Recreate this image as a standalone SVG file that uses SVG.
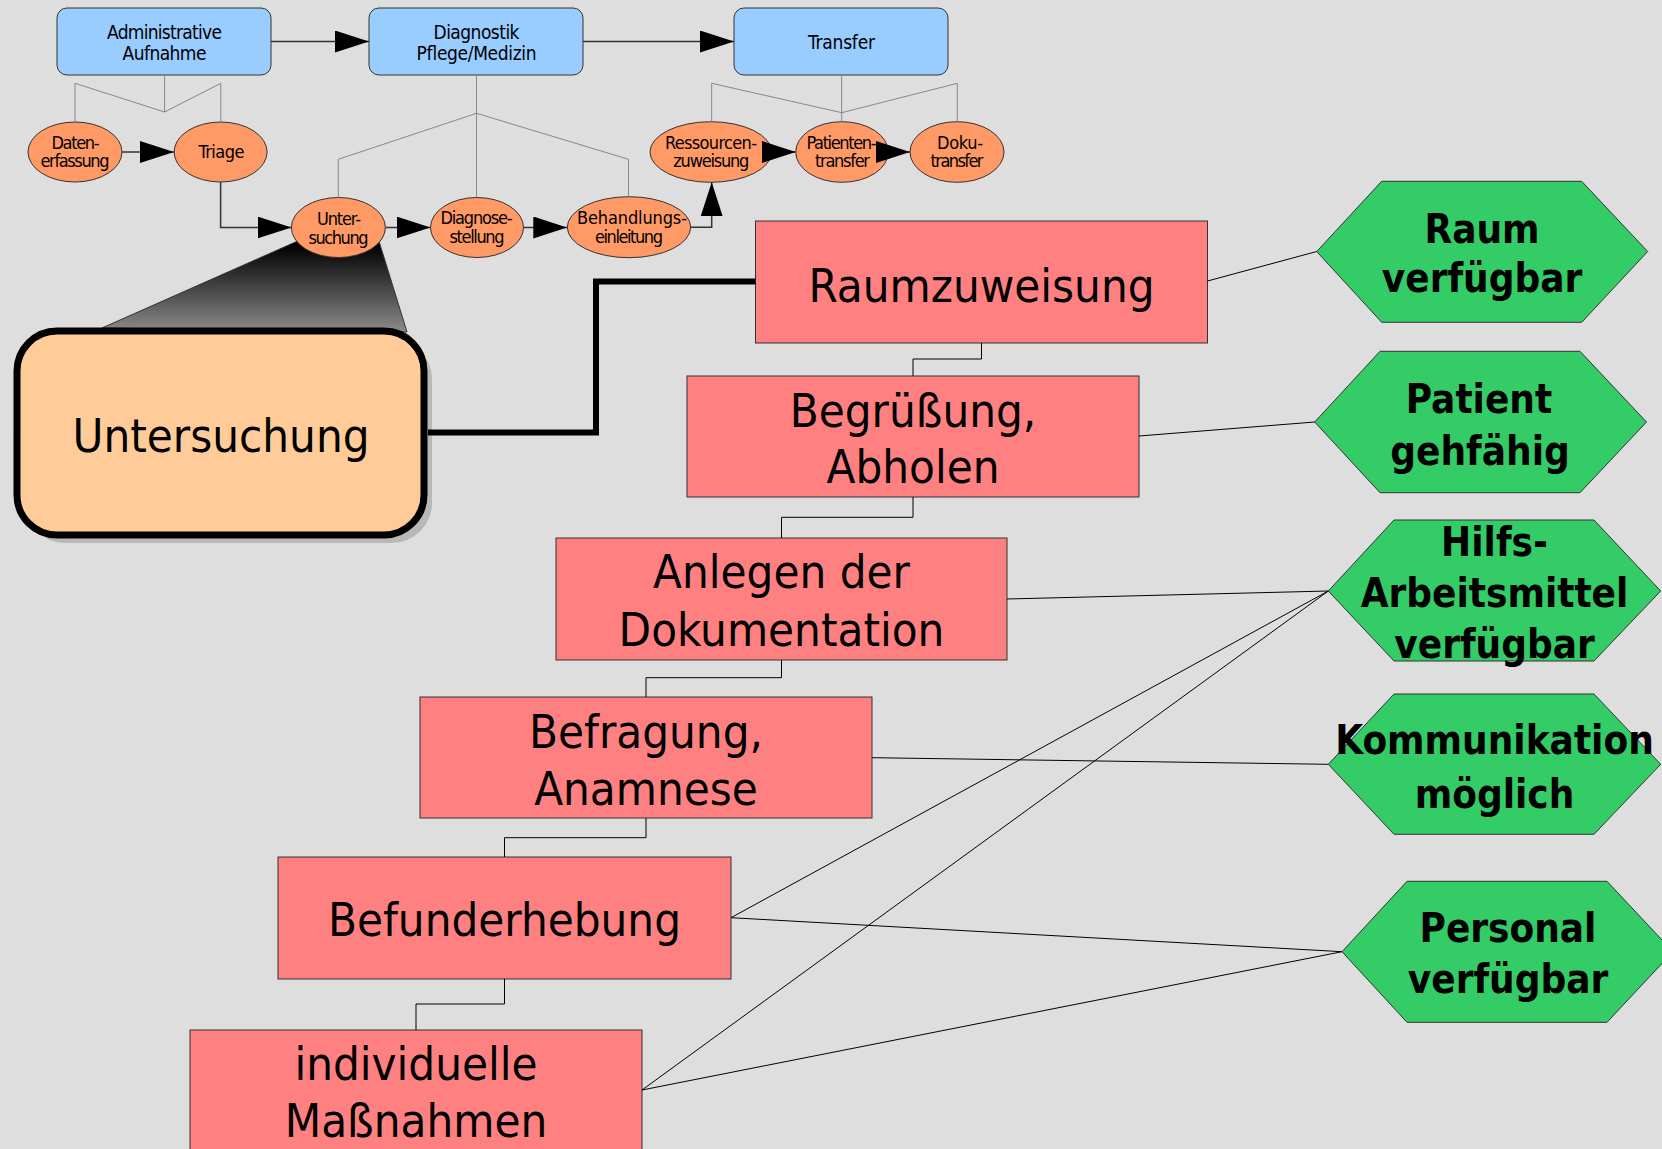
<svg xmlns="http://www.w3.org/2000/svg" width="1662" height="1149" viewBox="0 0 1662 1149">
<defs>
<marker id="ah" markerUnits="userSpaceOnUse" markerWidth="34" markerHeight="22" refX="34" refY="11" orient="auto">
<path d="M0,0 L34,11 L0,22 Z" fill="#000"/>
</marker>
<linearGradient id="wedge" gradientUnits="userSpaceOnUse" x1="0" y1="245" x2="0" y2="332">
<stop offset="0" stop-color="#000"/>
<stop offset="1" stop-color="#8c8c8c"/>
</linearGradient>
<style>
.blue{fill:#99ccff;stroke:#333;stroke-width:1}
.ell{fill:#ff9966;stroke:#333;stroke-width:1}
.red{fill:#ff8080;stroke:#333;stroke-width:1}
.hex{fill:#33cc66;stroke:#333;stroke-width:1}
.s{font-family:"DejaVu Sans Condensed","DejaVu Sans","Liberation Sans",sans-serif;font-size:19px;text-anchor:middle;fill:#000}
.e{font-family:"DejaVu Sans Condensed","DejaVu Sans","Liberation Sans",sans-serif;font-size:18px;text-anchor:middle;fill:#000}
.big{font-family:"DejaVu Sans Condensed","DejaVu Sans","Liberation Sans",sans-serif;font-size:47px;text-anchor:middle;fill:#000}
.hx{font-family:"DejaVu Sans Condensed","DejaVu Sans","Liberation Sans",sans-serif;font-weight:bold;font-size:40px;text-anchor:middle;fill:#000}
.tree{fill:none;stroke:#888;stroke-width:1}
.arr{fill:none;stroke:#333;stroke-width:1.5;marker-end:url(#ah)}
.thin{fill:none;stroke:#000;stroke-width:1}
</style>
</defs>
<rect x="0" y="0" width="1662" height="1149" fill="#dedede"/>

<g id="callout">
<polygon points="102,328 300,240 378,238 407,332" fill="url(#wedge)" stroke="#333" stroke-width="1"/>
<rect x="25" y="339" width="407" height="204" rx="40" ry="40" fill="#b8b8b8"/>
<rect x="17" y="331" width="407" height="204" rx="40" ry="40" fill="#ffcc99" stroke="#000" stroke-width="7"/>
<text class="big" x="221" y="451.5">Untersuchung</text>
</g>

<g id="admin"><rect class="blue" x="57" y="8" width="214" height="67" rx="10"/><text class="s" x="164.5" y="38.5" textLength="115">Administrative</text><text class="s" x="164.5" y="60" textLength="84">Aufnahme</text></g>
<g id="diagnostik"><rect class="blue" x="369" y="8" width="214" height="67" rx="10"/><text class="s" x="476.5" y="38.5" textLength="86">Diagnostik</text><text class="s" x="476.5" y="60" textLength="120">Pflege/Medizin</text></g>
<g id="transfer"><rect class="blue" x="734" y="8" width="214" height="67" rx="10"/><text class="s" x="841.5" y="49" textLength="67">Transfer</text></g>

<g id="datenerfassung"><ellipse class="ell" cx="75" cy="152" rx="47" ry="30"/><text class="e" x="75.5" y="149" textLength="48">Daten-</text><text class="e" x="75" y="167.3" textLength="69">erfassung</text></g>
<g id="triage"><ellipse class="ell" cx="220.6" cy="152" rx="46.5" ry="30"/><text class="e" x="221.5" y="158.3" textLength="46">Triage</text></g>
<g id="untersuchung"><ellipse class="ell" cx="338.4" cy="227.5" rx="47" ry="30"/><text class="e" x="339" y="224.5" textLength="44">Unter-</text><text class="e" x="338.5" y="243.5" textLength="60">suchung</text></g>
<g id="diagnosestellung"><ellipse class="ell" cx="477" cy="227.5" rx="46.5" ry="30"/><text class="e" x="476.5" y="224" textLength="72">Diagnose-</text><text class="e" x="477" y="243.3" textLength="55">stellung</text></g>
<g id="behandlungseinleitung"><ellipse class="ell" cx="629" cy="227.2" rx="61.7" ry="30.5"/><text class="e" x="632" y="223.5" textLength="110">Behandlungs-</text><text class="e" x="629" y="243.3" textLength="68">einleitung</text></g>
<g id="ressourcenzuweisung"><ellipse class="ell" cx="710.8" cy="152" rx="60.8" ry="30.3"/><text class="e" x="711" y="149.3" textLength="92">Ressourcen-</text><text class="e" x="711.3" y="167.3" textLength="76">zuweisung</text></g>
<g id="patiententransfer"><ellipse class="ell" cx="842" cy="152" rx="46.3" ry="30.3"/><text class="e" x="841.5" y="149.3" textLength="70">Patienten-</text><text class="e" x="842.5" y="167.3" textLength="55">transfer</text></g>
<g id="dokutransfer"><ellipse class="ell" cx="957" cy="152" rx="47" ry="30.3"/><text class="e" x="960" y="149.3" textLength="46">Doku-</text><text class="e" x="957" y="167.3" textLength="53">transfer</text></g>

<g id="raumzuweisung"><rect class="red" x="755.5" y="221" width="452" height="122"/><text class="big" x="981.5" y="301.7">Raumzuweisung</text></g>
<g id="begruessung"><rect class="red" x="687" y="376" width="452" height="121"/><text class="big" x="913" y="426.7">Begrüßung,</text><text class="big" x="913" y="483.3">Abholen</text></g>
<g id="anlegen"><rect class="red" x="556" y="538" width="451" height="122"/><text class="big" x="781.5" y="588.3">Anlegen der</text><text class="big" x="781.5" y="646">Dokumentation</text></g>
<g id="befragung"><rect class="red" x="420" y="697" width="452" height="121"/><text class="big" x="646" y="747.7">Befragung,</text><text class="big" x="646" y="805">Anamnese</text></g>
<g id="befunderhebung"><rect class="red" x="278" y="857" width="453" height="122"/><text class="big" x="504.5" y="936">Befunderhebung</text></g>
<g id="massnahmen"><rect class="red" x="190" y="1030" width="452" height="122"/><text class="big" x="416" y="1080">individuelle</text><text class="big" x="416" y="1137.3">Maßnahmen</text></g>

<g id="raum-verfuegbar"><polygon class="hex" points="1316.7,251.5 1381.7,181.3 1581.7,181.3 1647.7,251.5 1581.7,322.3 1381.7,322.3"/><text class="hx" x="1482" y="243.3">Raum</text><text class="hx" x="1482" y="291.7">verfügbar</text></g>
<g id="patient-gehfaehig"><polygon class="hex" points="1314.7,422 1380,351.3 1580,351.3 1646.5,422 1580,492.7 1380,492.7"/><text class="hx" x="1479" y="412.7">Patient</text><text class="hx" x="1480" y="465">gehfähig</text></g>
<g id="hilfsmittel"><polygon class="hex" points="1328.3,591 1394,520 1594,520 1660.7,591 1594,661 1394,661"/><text class="hx" x="1494.5" y="555.7">Hilfs-</text><text class="hx" x="1494.5" y="606.7">Arbeitsmittel</text><text class="hx" x="1494.5" y="657.7">verfügbar</text></g>
<g id="kommunikation"><polygon class="hex" points="1328.3,764.3 1394,694 1594,694 1660.7,764.3 1594,834.3 1394,834.3"/><text class="hx" x="1494.5" y="754.3">Kommunikation</text><text class="hx" x="1494.5" y="808.3">möglich</text></g>
<g id="personal"><polygon class="hex" points="1342,951.7 1407,881.3 1607,881.3 1673,951.7 1607,1022.3 1407,1022.3"/><text class="hx" x="1508" y="941.7">Personal</text><text class="hx" x="1508" y="993.3">verfügbar</text></g>

<g id="connectors">
<path class="tree" d="M164.6,75 V112 M75,121.7 V83.3 L164.6,112 L220.8,83.3 V121.7"/>
<path class="tree" d="M476.5,75 V197.5 M338.3,197.5 V159.3 L476.5,113.3 L628.5,159.3 V196.7"/>
<path class="tree" d="M841.7,75 V121.7 M711.7,121.7 V83.3 L841.7,112.7 L957.3,83.3 V121.7"/>
<path class="arr" d="M271,41.5 H369"/>
<path class="arr" d="M583,41.5 H734"/>
<path class="arr" d="M122,152 H174"/>
<path class="arr" d="M220.6,182 V227.5 H291.5"/>
<path class="arr" d="M385.4,227.5 H430.5"/>
<path class="arr" d="M523.5,227.5 H567.3"/>
<path class="arr" d="M690.7,227.2 H711.7 V182.3"/>
<path class="arr" d="M771.6,152 H795.7"/>
<path class="arr" d="M888.3,152 H910"/>
<path d="M428,432.5 H596 V281.5 H755.5" fill="none" stroke="#000" stroke-width="6"/>
<path class="thin" d="M981.5,343 V359 H913 V376"/>
<path class="thin" d="M913,497 V517.3 H781.5 V538"/>
<path class="thin" d="M781.5,660 V677.7 H646 V697"/>
<path class="thin" d="M646,818 V837.7 H504.5 V857"/>
<path class="thin" d="M504.5,979 V1004 H416 V1030"/>
<path class="thin" d="M1207.5,281 L1316.7,251.5"/>
<path class="thin" d="M1139,436 L1314.7,422"/>
<path class="thin" d="M1007,599 L1328.3,591"/>
<path class="thin" d="M872,757.7 L1328.3,764.3"/>
<path class="thin" d="M731,917.7 L1342,951.7"/>
<path class="thin" d="M731,917.7 L1328.3,591"/>
<path class="thin" d="M642,1090 L1328.3,591"/>
<path class="thin" d="M642,1090 L1342,951.7"/>
</g>
</svg>
